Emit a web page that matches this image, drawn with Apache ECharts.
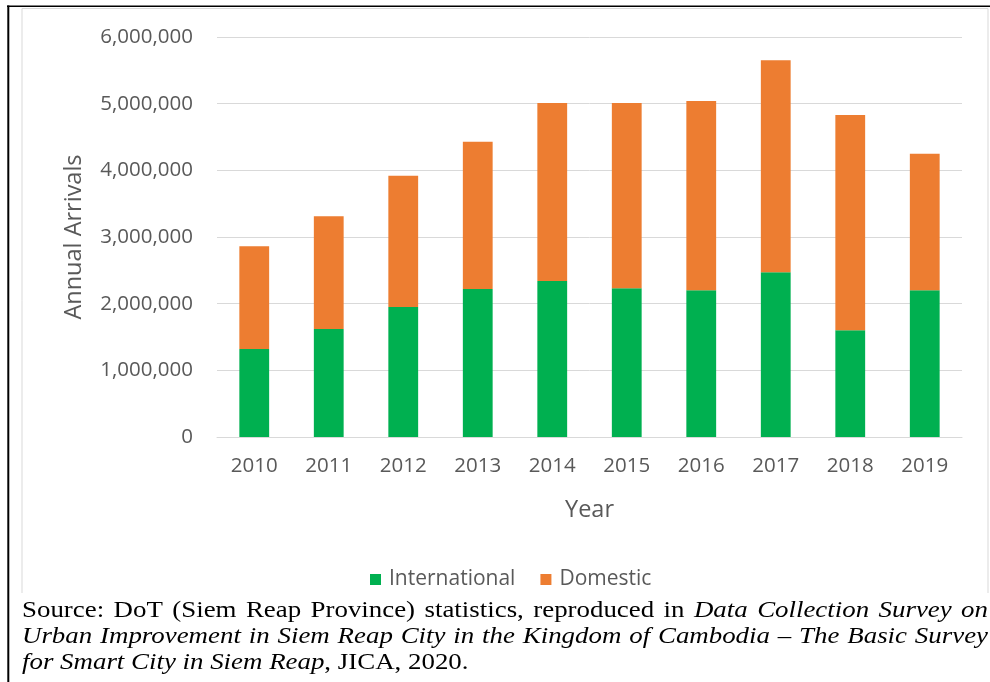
<!DOCTYPE html>
<html>
<head>
<meta charset="utf-8">
<script src="https://cdn.jsdelivr.net/npm/echarts@6/dist/echarts.min.js"></script>
<style>
  html, body { margin: 0; padding: 0; background: #fff; }
  #chart { width: 990px; height: 682px; }
</style>
</head>
<body>
<div id="chart"></div>
<script>
// Annual arrivals to Siem Reap, 2010–2019
const years = ['2010', '2011', '2012', '2013', '2014', '2015', '2016', '2017', '2018', '2019'];
const international = [1320000, 1620000, 1950000, 2220000, 2340000, 2230000, 2200000, 2470000, 1600000, 2200000];
const domestic = [1540000, 1690000, 1970000, 2210000, 2670000, 2780000, 2840000, 3180000, 3230000, 2050000];
const yTicks = { min: 0, max: 6000000, interval: 1000000 };

// Caption beneath the chart: runs of [text, italic]
const sourceLines = [
  [['Source: DoT (Siem Reap Province) statistics, reproduced in ', false], ['Data Collection Survey on', true]],
  [['Urban Improvement in Siem Reap City in the Kingdom of Cambodia \u2013 The Basic Survey', true]],
  [['for Smart City in Siem Reap', true], [', JICA, 2020.', false]]
];

const UI_FONT = '"Open Sans", "Noto Sans", sans-serif';
const LABEL_COLOR = '#595959';
const CAPTION_FONT_SIZE = 24;
const CAPTION_SCALE_X = 1.12;
const CAPTION_FAMILY = '"Liberation Serif", "Times New Roman", serif';

// Measure words so the caption lines can be justified across the frame
const measureCtx = document.createElement('canvas').getContext('2d');
function fontFor(italic) {
  return (italic ? 'italic ' : '') + CAPTION_FONT_SIZE + 'px ' + CAPTION_FAMILY;
}
function measure(text, italic) {
  measureCtx.font = fontFor(italic);
  return measureCtx.measureText(text).width * CAPTION_SCALE_X;
}
function toWords(runs) {
  const words = [];
  let prevEndsWithSpace = true;
  runs.forEach(([text, italic]) => {
    const parts = text.split(' ');
    parts.forEach((part, i) => {
      if (part === '') return;
      const piece = { text: part, italic };
      if (i === 0 && !prevEndsWithSpace && words.length) {
        words[words.length - 1].push(piece);
      } else {
        words.push([piece]);
      }
    });
    prevEndsWithSpace = text.endsWith(' ');
  });
  return words;
}

function captionElements(left, right, baselines) {
  const els = [];
  sourceLines.forEach((runs, li) => {
    const words = toWords(runs);
    const widths = words.map(w => w.reduce((s, p) => s + measure(p.text, p.italic), 0));
    const total = widths.reduce((a, b) => a + b, 0);
    const justify = li < sourceLines.length - 1;
    const gap = justify ? (right - left - total) / (words.length - 1) : measure(' ', false);
    let x = left;
    words.forEach(w => {
      w.forEach(p => {
        els.push({
          type: 'text',
          x: x,
          y: baselines[li],
          scaleX: CAPTION_SCALE_X,
          silent: true,
          style: {
            text: p.text,
            font: fontFor(p.italic),
            fill: '#000',
            align: 'left',
            verticalAlign: 'bottom'
          }
        });
        x += measure(p.text, p.italic);
      });
      x += gap;
    });
  });
  return els;
}

const chart = echarts.init(document.getElementById('chart'), null, { renderer: 'canvas' });

const option = {
  backgroundColor: '#fff',
  animation: false,
  grid: { left: 217, right: 28, top: 37, bottom: 245 },
  legend: {
    left: 370,
    top: 569,
    padding: 0,
    itemWidth: 11,
    itemHeight: 11,
    itemGap: 25,
    icon: 'rect',
    data: ['International', 'Domestic'],
    textStyle: { fontFamily: UI_FONT, fontSize: 21, color: LABEL_COLOR, padding: [0, 0, 0, 3] }
  },
  xAxis: {
    type: 'category',
    data: years,
    name: 'Year',
    nameLocation: 'middle',
    nameGap: 61,
    nameTextStyle: { fontFamily: UI_FONT, fontSize: 23.5, color: LABEL_COLOR },
    axisLine: { lineStyle: { color: '#D9D9D9', width: 1 } },
    axisTick: { show: false },
    axisLabel: { fontFamily: UI_FONT, fontSize: 20.5, color: LABEL_COLOR, margin: 19 }
  },
  yAxis: {
    type: 'value',
    min: yTicks.min,
    max: yTicks.max,
    interval: yTicks.interval,
    name: 'Annual Arrivals',
    nameLocation: 'middle',
    nameGap: 131,
    nameTextStyle: { fontFamily: UI_FONT, fontSize: 23.5, color: LABEL_COLOR },
    axisLine: { show: false },
    axisTick: { show: false },
    splitLine: { lineStyle: { color: '#D9D9D9', width: 1 } },
    axisLabel: {
      fontFamily: UI_FONT,
      fontSize: 20.5,
      color: LABEL_COLOR,
      margin: 24,
      formatter: v => v.toLocaleString('en-US')
    }
  },
  series: [
    {
      name: 'International',
      type: 'bar',
      stack: 'arrivals',
      barWidth: '40%',
      itemStyle: { color: '#00B050' },
      data: international
    },
    {
      name: 'Domestic',
      type: 'bar',
      stack: 'arrivals',
      barWidth: '40%',
      itemStyle: { color: '#ED7D31' },
      data: domestic
    }
  ],
  graphic: [
    // chart area outline (open at the bottom, where the caption begins)
    {
      type: 'polyline',
      silent: true,
      shape: { points: [[22, 593], [22, 8.5], [988, 8.5], [988, 593]] },
      style: { fill: null, stroke: '#D9D9D9', lineWidth: 1 }
    },
    // page frame
    {
      type: 'line',
      silent: true,
      shape: { x1: 7, y1: 6.3, x2: 990, y2: 6.3 },
      style: { stroke: '#000', lineWidth: 1.5 }
    },
    {
      type: 'line',
      silent: true,
      shape: { x1: 8.3, y1: 5.5, x2: 8.3, y2: 682 },
      style: { stroke: '#000', lineWidth: 2 }
    }
  ].concat(captionElements(22, 988, [623, 649, 675]))
};

chart.setOption(option);
</script>
</body>
</html>
